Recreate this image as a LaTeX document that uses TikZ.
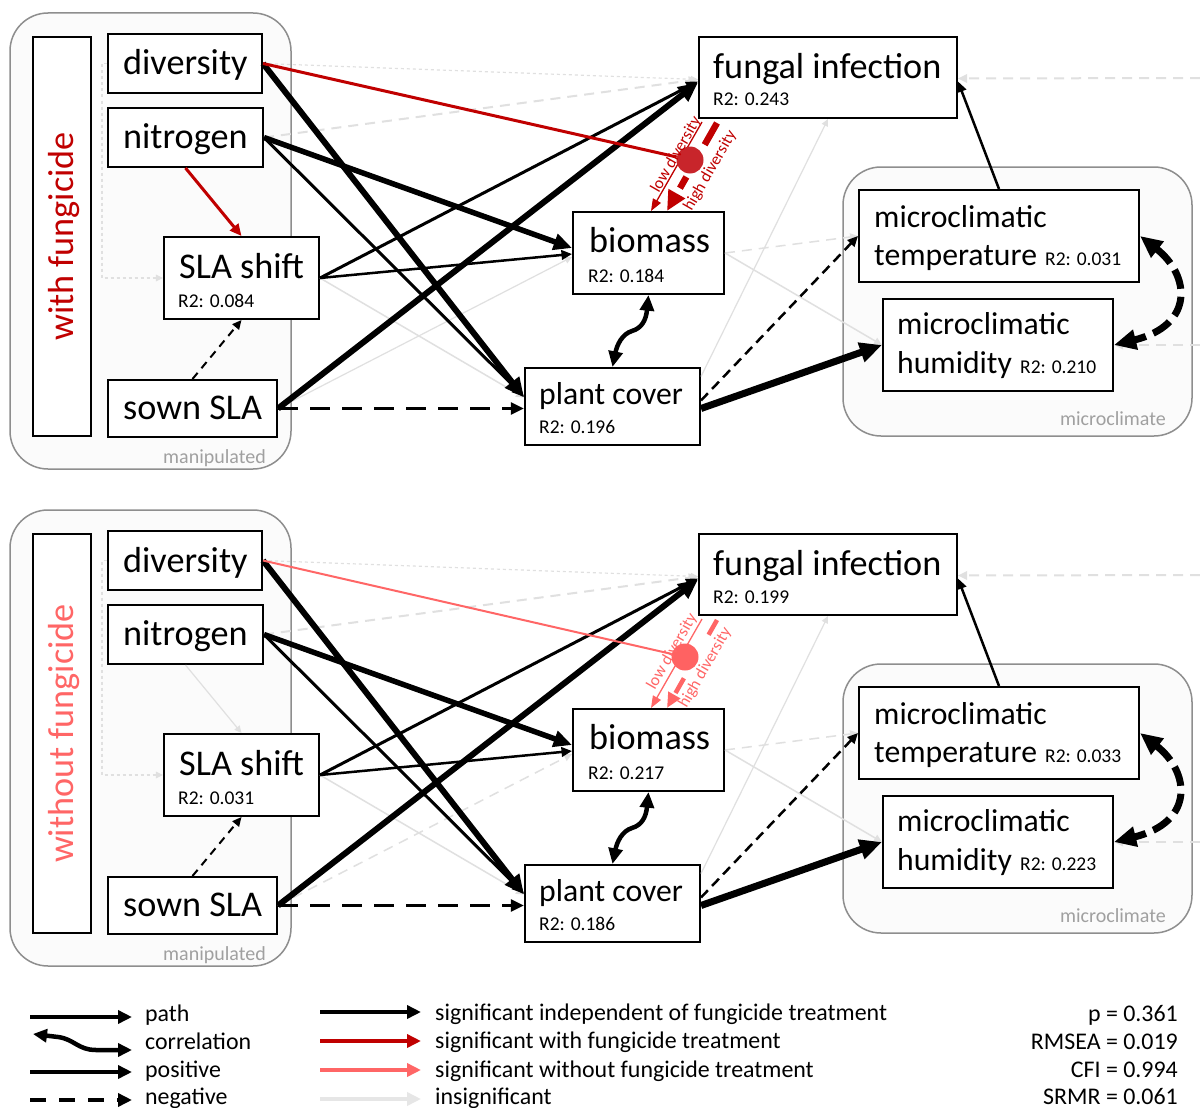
\documentclass[tikz,border=0pt]{standalone}
\usepackage{fontspec}
\setmainfont{Carlito}
\usetikzlibrary{arrows.meta}

\definecolor{dred}{HTML}{C00000}
\definecolor{pinkc}{HTML}{FF6666}
\definecolor{redcirc}{HTML}{C8252B}
\definecolor{pinkcirc}{HTML}{FF6262}
\definecolor{insig}{HTML}{E0E0E0}
\definecolor{insigleg}{HTML}{E6E6E6}
\definecolor{contgray}{HTML}{8E8E8E}
\definecolor{contfill}{HTML}{FBFBFB}
\definecolor{labgray}{HTML}{A0A0A0}

\newcommand\bigf{\fontsize{36.2}{40}\selectfont}
\newcommand\medf{\fontsize{31.7}{36}\selectfont}
\newcommand\rfont{\fontsize{19.5}{22}\selectfont}
\newcommand\gfont{\fontsize{20}{24}\selectfont}
\newcommand\legfont{\fontsize{23.9}{27}\selectfont}
\newcommand\ixfont{\fontsize{16.5}{19}\selectfont}

\tikzset{
  cont/.style={draw=contgray, line width=1.5pt, fill=contfill, rounded corners=38pt, inner sep=0pt},
  vbox/.style={draw=black, line width=2pt, fill=white, inner sep=0pt},
  lab/.style={inner sep=0pt, font=\bigf, anchor=base west},
  labm/.style={inner sep=0pt, font=\medf, anchor=base west},
  rlab/.style={inner sep=0pt, font=\rfont, anchor=base west},
  glab/.style={inner sep=0pt, font=\gfont, text=labgray, anchor=base east},
  ixlab/.style={inner sep=0pt, font=\ixfont, rotate=60, anchor=base},
  pathtip/.style={-{Triangle[length=4pt 2.6, width=4pt 2.2]}},
  sig/.style={draw=black, pathtip},
  insigl/.style={draw=insig, line width=1.5pt, pathtip},
  insdot/.style={insigl, line width=1.2pt, dash pattern=on 3pt off 3pt},
  insdash/.style={insigl, line width=2pt, dash pattern=on 10pt off 7pt},
  corr/.style={draw=black, {Triangle[length=4pt 2.6, width=4pt 2.2]}-{Triangle[length=4pt 2.6, width=4pt 2.2]}},
  legarrow/.style={line width=4.5pt, -{Triangle[length=14pt,width=13pt]}},
  legt/.style={inner sep=0pt, font=\legfont, anchor=base west},
  legs/.style={inner sep=0pt, font=\legfont, anchor=base east},
}

\newcommand\panel[1]{%
  \node[cont, minimum width=281pt, minimum height=456pt] (#1manip) at (150.5,241) {};
  \node[cont, minimum width=349pt, minimum height=269pt] (#1micro) at (1017.5,301.5) {};
  \node[glab] (#1maniplab) at (266,463) {manipulated};
  \node[glab] (#1microlab) at (1166,425) {microclimate};
  \node[vbox, minimum width=58pt, minimum height=399pt] (#1tbox) at (62,236.5) {};
  \node[titlecol, rotate=90, anchor=base, inner sep=0pt, font=\bigf] (#1title) at (73,236.5) {\pTitle};
  \node[vbox, minimum width=154pt, minimum height=59pt] (#1div) at (185,63.5) {};
  \node[vbox, minimum width=155pt, minimum height=59pt] (#1nit) at (185.5,137.5) {};
  \node[vbox, minimum width=155pt, minimum height=82pt] (#1sla) at (241.5,278) {};
  \node[vbox, minimum width=169pt, minimum height=57pt] (#1sown) at (192.5,408.5) {};
  \node[vbox, minimum width=258pt, minimum height=81pt] (#1fun) at (828,77.5) {};
  \node[vbox, minimum width=151pt, minimum height=82pt] (#1bio) at (648.5,253) {};
  \node[vbox, minimum width=175pt, minimum height=77pt] (#1pc) at (612.5,406.5) {};
  \node[vbox, minimum width=280pt, minimum height=92pt] (#1tmp) at (999,236) {};
  \node[vbox, minimum width=230pt, minimum height=92pt] (#1hum) at (998,345) {};
  % texts
  \node[lab] (#1divt) at (123,75) {diversity};
  \node[lab] (#1nitt) at (123,148) {nitrogen};
  \node[lab] (#1slat) at (179,278) {SLA shift};
  \node[rlab] (#1slar) at (178,307) {R2: \rSla};
  \node[lab] (#1sownt) at (123,419) {sown SLA};
  \node[lab] (#1funt) at (713,78) {fungal infection};
  \node[rlab] (#1funr) at (713,106) {R2: \rFun};
  \node[lab] (#1biot) at (589,252) {biomass};
  \node[rlab] (#1bior) at (588,282) {R2: \rBio};
  \node[labm] (#1pct) at (539,404) {plant cover};
  \node[rlab] (#1pcr) at (539,433) {R2: \rPc};
  \node[labm] (#1tmpt) at (874,227) {microclimatic};
  \node[labm] (#1tmpu) at (874,265) {temperature};
  \node[rlab] (#1tmpr) at (1045,265) {R2: \rTmp};
  \node[labm] (#1humt) at (897,334) {microclimatic};
  \node[labm] (#1humu) at (897,373) {humidity};
  \node[rlab] (#1humr) at (1020,373) {R2: \rHum};
  % insignificant paths
  \coordinate (#1edgeA) at (1200,78);
  \coordinate (#1edgeB) at (1200,345);
  \draw[insdot] (#1div.east) -- ([yshift=-2pt]#1fun.west);
  \draw[insdash] (#1nit.east) -- ([yshift=-2pt]#1fun.west);
  \draw[insdot] (#1div.west) -- ++(-5,0) |- (#1sla.west);
  \draw[insigl] (#1sla.east) -- ([yshift=9pt]#1pc.west);
  \draw[sownbio] (#1sown.east) -- ([yshift=-4pt]#1bio.west);
  \draw[insigl] (#1bio.east) -- (#1hum.west);
  \draw[insdash, line width=1.5pt] (#1bio.east) -- (#1tmp.west);
  \draw[insigl, line width=1.2pt] ([yshift=30pt]#1pc.east) -- (#1fun.south);
  \draw[insdash] (#1edgeA) -- ([yshift=-1pt]#1fun.east);
  \draw[insdash] (#1edgeB) -- (#1hum.east);
  % significant paths
  \draw[nitsla] (#1nit.south) -- (#1sla.north);
  \draw[sig, line width=3pt] (#1sla.east) -- ([yshift=-4pt]#1fun.west);
  \draw[sig, line width=2.5pt] (#1sla.east) -- ([yshift=-1pt]#1bio.west);
  \draw[sig, line width=3pt] (#1nit.east) -- ([yshift=10pt]#1pc.west);
  \draw[sig, line width=5.5pt] (#1nit.east) -- ([yshift=5pt]#1bio.west);
  \draw[sig, line width=6pt] (#1div.east) -- ([yshift=9pt]#1pc.west);
  \draw[sig, line width=6pt] (#1sown.east) -- ([yshift=-5pt]#1fun.west);
  \draw[sig, line width=3.5pt, dash pattern=on 20pt off 12pt] (#1sown.east) -- (#1sown.east -| #1pc.west);
  \draw[sig, line width=2pt, dash pattern=on 8pt off 6pt] (#1sown.north) -- (#1sla.south);
  \draw[sig, line width=7pt] ([yshift=-2pt]#1pc.east) -- (#1hum.west);
  \draw[sig, line width=2.5pt, dash pattern=on 10pt off 6pt] ([yshift=6pt]#1pc.east) -- (#1tmp.west);
  \draw[sig, line width=2.5pt] (#1tmp.north) -- ([yshift=-4pt]#1fun.east);
  \draw[corr, line width=4.5pt] (#1bio.south) .. controls (646,320) and (642,328) .. (632,331)
        .. controls (622,334) and (617,345) .. (#1pc.north);
  \draw[corr, line width=7pt, dash pattern=on 20pt off 8pt]
        (#1tmp.east) .. controls (1190,275) and (1195,325) .. (#1hum.east);
  % interaction
  \draw[ixline, line width=1.3pt, -{Triangle[length=12pt,width=9pt]}]
        ([xshift=4pt,yshift=-3pt]#1fun.south west) -- ([xshift=79pt]#1bio.north west);
  \draw[hiline] ([xshift=19pt,yshift=-4pt]#1fun.south west) -- ([xshift=95pt]#1bio.north west);
  \node[circle, circfill, minimum size=27pt, inner sep=0pt] (#1ix) at (\pCx,160) {};
  \draw[divix] (#1div.east) -- (#1ix);
  \node[ixlab, ixtext] (#1lowlab) at (\pLx,157) {low diversity};
  \node[ixlab, ixtext] (#1highlab) at (\pHx,173) {high diversity};
}

\begin{document}
\begin{tikzpicture}[x=1pt,y=-1pt]
\useasboundingbox (0,0) rectangle (1200,1108);
\fill[white] (0,0) rectangle (1200,1108);

% ---------- top panel: with fungicide
\def\pTitle{with fungicide}
\def\rSla{0.084}\def\rFun{0.243}\def\rBio{0.184}\def\rPc{0.196}\def\rTmp{0.031}\def\rHum{0.210}
\def\pCx{690}\def\pLx{680}\def\pHx{714}
\tikzset{
  titlecol/.style={text=dred},
  ixline/.style={draw=dred},
  ixtext/.style={text=dred},
  circfill/.style={fill=redcirc},
  divix/.style={draw=dred, line width=3pt},
  nitsla/.style={draw=dred, line width=3pt, pathtip},
  sownbio/.style={insigl, line width=1.2pt},
  hiline/.style={draw=dred, line width=6.5pt, dash pattern=on 25pt off 37pt on 13pt off 40pt,
                 -{Triangle[length=20pt,width=18pt]}},
}
\panel{t}

% ---------- bottom panel: without fungicide
\begin{scope}[yshift=-497pt]
\def\pTitle{without fungicide}
\def\rSla{0.031}\def\rFun{0.199}\def\rBio{0.217}\def\rPc{0.186}\def\rTmp{0.033}\def\rHum{0.223}
\def\pCx{685}\def\pLx{676}\def\pHx{709}
\tikzset{
  titlecol/.style={text=pinkc},
  ixline/.style={draw=pinkc},
  ixtext/.style={text=pinkc},
  circfill/.style={fill=pinkcirc},
  divix/.style={draw=pinkc, line width=2pt},
  nitsla/.style={insigl, line width=1.2pt},
  sownbio/.style={insdash, line width=1.5pt},
  hiline/.style={draw=pinkc, line width=4.5pt, dash pattern=on 17pt off 50pt on 17pt off 40pt,
                 -{Triangle[length=15pt,width=13pt]}},
}
\panel{b}
\end{scope}

% ---------- legend
\coordinate (lg1a) at (30,1017);  \coordinate (lg1b) at (132,1017);
\coordinate (lg2a) at (33,1034);  \coordinate (lg2b) at (132,1050);
\coordinate (lg3a) at (30,1072);  \coordinate (lg3b) at (132,1072);
\coordinate (lg4a) at (30,1100);  \coordinate (lg4b) at (132,1100);
\draw[legarrow] (lg1a) -- (lg1b);
\draw[line width=4.5pt, {Triangle[length=14pt,width=13pt]}-{Triangle[length=14pt,width=13pt]}]
   (lg2a) -- (58,1037) .. controls (74,1039) and (78,1050) .. (96,1050) -- (lg2b);
\draw[legarrow] (lg3a) -- (lg3b);
\draw[legarrow, dash pattern=on 16pt off 13pt] (lg4a) -- (lg4b);
\node[legt] (lgt1) at (145,1021) {path};
\node[legt] (lgt2) at (145,1049) {correlation};
\node[legt] (lgt3) at (145,1077) {positive};
\node[legt] (lgt4) at (145,1104) {negative};

\coordinate (lh1a) at (320,1012); \coordinate (lh1b) at (421,1012);
\coordinate (lh2a) at (320,1041); \coordinate (lh2b) at (421,1041);
\coordinate (lh3a) at (320,1070); \coordinate (lh3b) at (421,1070);
\coordinate (lh4a) at (320,1099); \coordinate (lh4b) at (421,1099);
\draw[legarrow, draw=black] (lh1a) -- (lh1b);
\draw[legarrow, draw=dred] (lh2a) -- (lh2b);
\draw[legarrow, draw=pinkc] (lh3a) -- (lh3b);
\draw[legarrow, draw=insigleg] (lh4a) -- (lh4b);
\node[legt] (lht1) at (435,1020) {significant independent of fungicide treatment};
\node[legt] (lht2) at (435,1048) {significant with fungicide treatment};
\node[legt] (lht3) at (435,1077) {significant without fungicide treatment};
\node[legt] (lht4) at (435,1104) {insignificant};

\node[legs] (st1) at (1178,1021) {p = 0.361};
\node[legs] (st2) at (1178,1049) {RMSEA = 0.019};
\node[legs] (st3) at (1178,1077) {CFI = 0.994};
\node[legs] (st4) at (1178,1104) {SRMR = 0.061};
\end{tikzpicture}
\end{document}
